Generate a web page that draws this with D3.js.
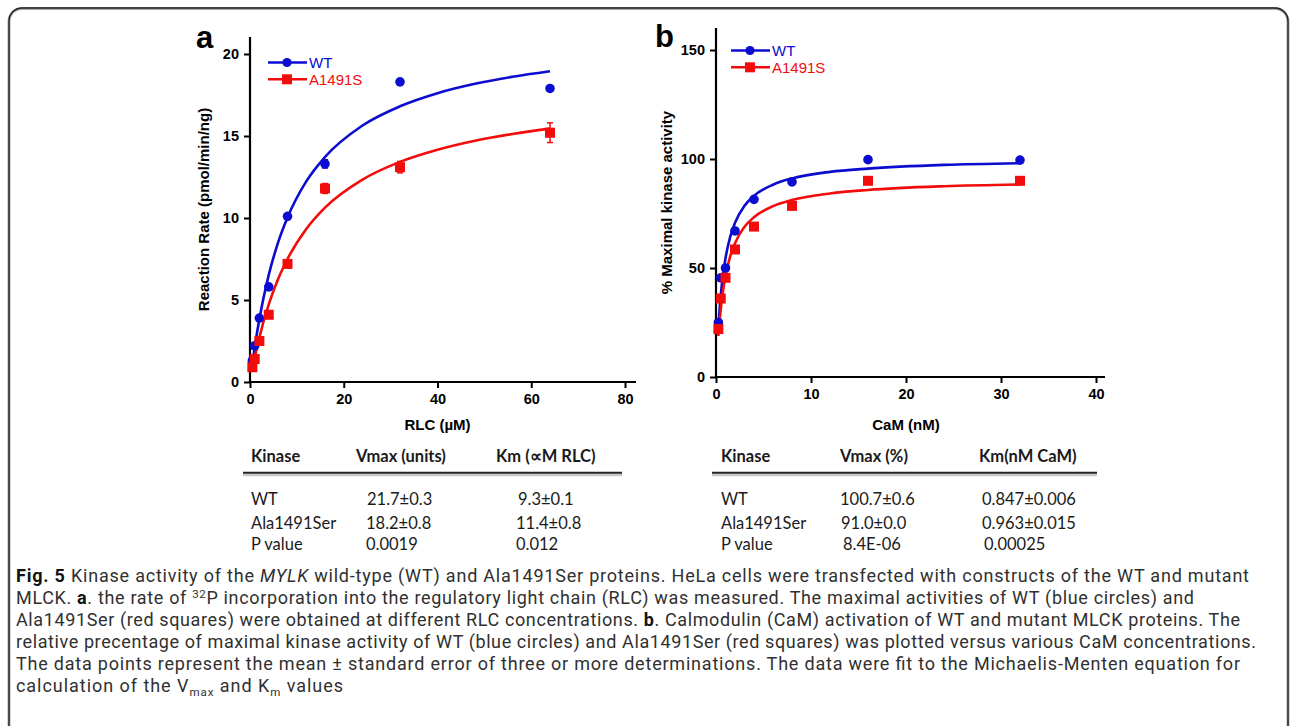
<!DOCTYPE html>
<html>
<head>
<meta charset="utf-8">
<script src="https://cdn.jsdelivr.net/npm/d3@7"></script>
<style>
  body { margin: 0; background: #fff; }
  svg { display: block; }
  .tick text { font-family: "Liberation Sans", Arial, sans-serif; font-weight: bold; font-size: 14.5px; fill: #000; }
</style>
</head>
<body>
<svg id="fig" width="1290" height="726"></svg>
<script>
// ---- panel a : RLC titration ----
var rlcConc   = [0.5, 1, 2, 4, 8, 16, 32, 64];
var rlcWT     = [1.3, 2.2, 3.9, 5.8, 10.1, 13.3, 18.3, 17.9];
var rlcWTErr  = [0, 0, 0, 0, 0, 0.25, 0, 0];
var rlcMut    = [0.9, 1.4, 2.5, 4.1, 7.2, 11.8, 13.1, 15.2];
var rlcMutErr = [0, 0, 0, 0, 0, 0.3, 0.35, 0.6];
// fitted curves
var rlcFitX   = [0.5, 1, 2, 4, 6, 8, 12, 16, 24, 32, 40, 48, 56, 64];
var rlcFitWT  = [1.1, 2.1, 3.84, 6.53, 8.51, 10.03, 12.23, 13.72, 15.64, 16.81, 17.61, 18.18, 18.61, 18.95];
var rlcFitMut = [0.77, 1.47, 2.72, 4.73, 6.28, 7.5, 9.33, 10.63, 12.34, 13.42, 14.16, 14.71, 15.12, 15.45];
var rlcXTicks = [0, 20, 40, 60, 80];
var rlcYTicks = [0, 5, 10, 15, 20];

// ---- panel b : CaM titration ----
var camConc   = [0.25, 0.5, 1, 2, 4, 8, 16, 32];
var camWT     = [25, 45.5, 50, 67, 81.5, 89.5, 99.7, 99.5];
var camMut    = [22, 36, 45.5, 58.5, 69, 78.5, 90, 90];
var camFitX   = [0.25, 0.5, 0.75, 1, 1.5, 2, 3, 4, 6, 8, 12, 16, 24, 32];
var camFitWT  = [22.9, 37.4, 47.3, 54.5, 64.4, 70.7, 78.5, 83.1, 88.2, 91.1, 94.1, 95.6, 97.3, 98.1];
var camFitMut = [18.8, 31.1, 39.8, 46.4, 55.4, 61.4, 68.9, 73.3, 78.4, 81.2, 84.2, 85.8, 87.5, 88.3];
var camXTicks = [0, 10, 20, 30, 40];
var camYTicks = [0, 50, 100, 150];

var seriesNames = ["WT", "A1491S"];

// ---- tables ----
var tableRows   = ["WT", "Ala1491Ser", "P value"];
var tableAHead  = ["Kinase", "Vmax (units)", "Km (\u221DM RLC)"];
var tableAVmax  = ["21.7\u00B10.3", "18.2\u00B10.8", "0.0019"];
var tableAKm    = ["9.3\u00B10.1", "11.4\u00B10.8", "0.012"];
var tableBHead  = ["Kinase", "Vmax (%)", "Km(nM CaM)"];
var tableBVmax  = ["100.7\u00B10.6", "91.0\u00B10.0", "8.4E-06"];
var tableBKm    = ["0.847\u00B10.006", "0.963\u00B10.015", "0.00025"];

var BLUE = "#0c0cd0", RED = "#f20c0c";
var svg = d3.select("#fig");

// figure frame
svg.append("rect")
  .attr("x", 9).attr("y", 8.5).attr("width", 1279).attr("height", 740)
  .attr("rx", 13).attr("fill", "none").attr("stroke", "#aaa").attr("stroke-width", 3);
svg.append("rect")
  .attr("x", 9).attr("y", 8).attr("width", 1279).attr("height", 740)
  .attr("rx", 13).attr("fill", "none").attr("stroke", "#222").attr("stroke-width", 1.4);

function drawPanel(p) {
  var g = svg.append("g");
  var x = d3.scaleLinear().domain(p.xDomain).range([p.left, p.right]);
  var y = d3.scaleLinear().domain(p.yDomain).range([p.bottom, p.top]);

  // axes
  var xAxis = g.append("g").attr("transform", "translate(0," + p.bottom + ")")
    .call(d3.axisBottom(x).tickValues(p.xTicks).tickSize(6).tickPadding(6).tickSizeOuter(0));
  var yAxis = g.append("g").attr("transform", "translate(" + p.left + ",0)")
    .call(d3.axisLeft(y).tickValues(p.yTicks).tickSize(6).tickPadding(5).tickSizeOuter(0));
  [xAxis, yAxis].forEach(function (a) {
    a.select(".domain").remove();
    a.selectAll(".tick line").attr("stroke", "#000").attr("stroke-width", 2);
  });
  // spines run a bit past the last tick
  g.append("line").attr("x1", p.left).attr("x2", p.left).attr("y1", p.bottom + 1).attr("y2", p.spineTop)
    .attr("stroke", "#000").attr("stroke-width", 2.2);
  g.append("line").attr("x1", p.left - 1).attr("x2", p.spineRight).attr("y1", p.bottom).attr("y2", p.bottom)
    .attr("stroke", "#000").attr("stroke-width", 2.2);

  // axis titles
  g.append("text").attr("x", (p.left + p.right) / 2).attr("y", 430)
    .attr("text-anchor", "middle")
    .style("font", "bold 15px 'Liberation Sans', Arial, sans-serif")
    .text(p.xLabel);
  g.append("text")
    .attr("transform", "translate(" + p.yLabelX + "," + ((p.bottom + p.spineTop) / 2) + ") rotate(-90)")
    .attr("text-anchor", "middle")
    .style("font", "bold 15px 'Liberation Sans', Arial, sans-serif")
    .text(p.yLabel);

  // panel letter
  g.append("text").attr("x", p.letterX).attr("y", p.letterY)
    .style("font", "bold 31px 'Liberation Sans', Arial, sans-serif")
    .text(p.letter);

  var line = d3.line().x(function (d) { return x(d[0]); }).y(function (d) { return y(d[1]); })
    .curve(d3.curveMonotoneX);

  var series = [
    { fitY: p.fitWT, pts: p.wt, err: p.wtErr, color: BLUE, shape: "circle" },
    { fitY: p.fitMut, pts: p.mut, err: p.mutErr, color: RED, shape: "square" }
  ];

  series.forEach(function (s) {
    g.append("path")
      .datum(p.fitX.map(function (v, i) { return [v, s.fitY[i]]; }))
      .attr("d", line).attr("fill", "none")
      .attr("stroke", s.color).attr("stroke-width", 2.6);
  });

  series.forEach(function (s) {
    var pts = p.conc.map(function (c, i) { return { x: c, y: s.pts[i], e: s.err ? s.err[i] : 0 }; });
    // error bars
    var eb = g.selectAll(null).data(pts.filter(function (d) { return d.e > 0; })).enter().append("g")
      .attr("stroke", s.color).attr("stroke-width", 1.5);
    eb.append("line").attr("x1", function (d) { return x(d.x); }).attr("x2", function (d) { return x(d.x); })
      .attr("y1", function (d) { return y(d.y - d.e); }).attr("y2", function (d) { return y(d.y + d.e); });
    eb.append("line").attr("x1", function (d) { return x(d.x) - 3; }).attr("x2", function (d) { return x(d.x) + 3; })
      .attr("y1", function (d) { return y(d.y + d.e); }).attr("y2", function (d) { return y(d.y + d.e); });
    eb.append("line").attr("x1", function (d) { return x(d.x) - 3; }).attr("x2", function (d) { return x(d.x) + 3; })
      .attr("y1", function (d) { return y(d.y - d.e); }).attr("y2", function (d) { return y(d.y - d.e); });

    if (s.shape === "circle") {
      g.selectAll(null).data(pts).enter().append("circle")
        .attr("cx", function (d) { return x(d.x); }).attr("cy", function (d) { return y(d.y); })
        .attr("r", 4.8).attr("fill", s.color);
    } else {
      g.selectAll(null).data(pts).enter().append("rect")
        .attr("x", function (d) { return x(d.x) - 5; }).attr("y", function (d) { return y(d.y) - 5; })
        .attr("width", 10).attr("height", 10).attr("fill", s.color);
    }
  });

  // legend
  var lg = g.append("g").attr("transform", "translate(" + p.legendX + "," + p.legendY + ")");
  seriesNames.forEach(function (name, i) {
    var c = i === 0 ? BLUE : RED;
    var row = lg.append("g").attr("transform", "translate(0," + (i * 16.8) + ")");
    row.append("line").attr("x1", 0).attr("x2", 39).attr("stroke", c).attr("stroke-width", 2.6);
    if (i === 0) row.append("circle").attr("cx", 19).attr("r", 4.6).attr("fill", c);
    else row.append("rect").attr("x", 14).attr("y", -5).attr("width", 10).attr("height", 10).attr("fill", c);
    row.append("text").attr("x", 41).attr("y", 5.5).attr("fill", c)
      .style("font", "15px 'Liberation Sans', Arial, sans-serif").text(name);
  });
}

drawPanel({
  letter: "a", letterX: 196, letterY: 48,
  xDomain: [0, 80], yDomain: [0, 20], left: 250, right: 625, bottom: 382, top: 54,
  spineTop: 37, spineRight: 636,
  xTicks: rlcXTicks, yTicks: rlcYTicks,
  xLabel: "RLC (\u00B5M)", yLabel: "Reaction Rate (pmol/min/ng)", yLabelX: 209,
  conc: rlcConc, wt: rlcWT, wtErr: rlcWTErr, mut: rlcMut, mutErr: rlcMutErr,
  fitX: rlcFitX, fitWT: rlcFitWT, fitMut: rlcFitMut,
  legendX: 268, legendY: 62.5
});

drawPanel({
  letter: "b", letterX: 655, letterY: 47,
  xDomain: [0, 40], yDomain: [0, 150], left: 716, right: 1096, bottom: 377, top: 50,
  spineTop: 28, spineRight: 1105,
  xTicks: camXTicks, yTicks: camYTicks,
  xLabel: "CaM (nM)", yLabel: "% Maximal kinase activity", yLabelX: 672,
  conc: camConc, wt: camWT, wtErr: null, mut: camMut, mutErr: null,
  fitX: camFitX, fitWT: camFitWT, fitMut: camFitMut,
  legendX: 731, legendY: 50.5
});

// ---- kinetics tables ----
function drawTable(t) {
  var g = svg.append("g").style("font-family", "Lato, 'Open Sans', sans-serif").style("font-size", "16.5px").attr("fill", "#1a1a1a");
  t.head.forEach(function (h, i) {
    g.append("text").attr("x", t.cols[i]).attr("y", 462).style("font-weight", "bold").text(h);
  });
  g.append("line").attr("x1", t.x1).attr("x2", t.x2).attr("y1", 475).attr("y2", 475)
    .attr("stroke", "#c8c8c8").attr("stroke-width", 2.5);
  g.append("line").attr("x1", t.x1).attr("x2", t.x2).attr("y1", 472.7).attr("y2", 472.7)
    .attr("stroke", "#222").attr("stroke-width", 2);
  var rowY = [504.5, 528.5, 549.5];
  tableRows.forEach(function (r, i) {
    g.append("text").attr("x", t.cols[0]).attr("y", rowY[i]).text(r);
    g.append("text").attr("x", t.valCols[0][i]).attr("y", rowY[i]).text(t.vmax[i]);
    g.append("text").attr("x", t.valCols[1][i]).attr("y", rowY[i]).text(t.km[i]);
  });
}

drawTable({
  head: tableAHead, vmax: tableAVmax, km: tableAKm,
  cols: [251, 356, 496], x1: 243, x2: 622,
  valCols: [[367, 366, 366], [518, 516, 516]]
});
drawTable({
  head: tableBHead, vmax: tableBVmax, km: tableBKm,
  cols: [721, 840, 979], x1: 712, x2: 1097,
  valCols: [[840, 841, 843], [982, 982, 984]]
});

// ---- caption ----
var captionLines = [
  [["b", "Fig. 5"], ["", " Kinase activity of the "], ["i", "MYLK"], ["", " wild-type (WT) and Ala1491Ser proteins. HeLa cells were transfected with constructs of the WT and mutant"]],
  [["", "MLCK. "], ["b", "a"], ["", ". the rate of "], ["sup", "32"], ["", "P incorporation into the regulatory light chain (RLC) was measured. The maximal activities of WT (blue circles) and"]],
  [["", "Ala1491Ser (red squares) were obtained at different RLC concentrations. "], ["b", "b"], ["", ". Calmodulin (CaM) activation of WT and mutant MLCK proteins. The"]],
  [["", "relative precentage of maximal kinase activity of WT (blue circles) and Ala1491Ser (red squares) was plotted versus various CaM concentrations."]],
  [["", "The data points represent the mean \u00B1 standard error of three or more determinations. The data were fit to the Michaelis-Menten equation for"]],
  [["", "calculation of the V"], ["sub", "max"], ["", " and K"], ["sub", "m"], ["", " values"]]
];
// how far each caption line runs in the reference
var captionWidths = [1233, 1178, 1224, 1240, 1224, 327];

var cap = svg.append("g")
  .style("font-family", "Roboto, sans-serif").style("font-size", "18px").attr("fill", "#303030");
captionLines.forEach(function (parts, li) {
  var t = cap.append("text").attr("x", 16).attr("y", 582 + li * 22)
    .attr("textLength", captionWidths[li]).attr("lengthAdjust", "spacing");
  var shift = 0;
  parts.forEach(function (pt) {
    var s = t.append("tspan").text(pt[1]);
    if (pt[0] === "b") s.style("font-weight", "bold").attr("fill", "#111");
    if (pt[0] === "i") s.style("font-style", "italic");
    if (pt[0] === "sup") { s.style("font-size", "11.5px").attr("dy", -6); shift = 6; return; }
    if (pt[0] === "sub") { s.style("font-size", "11.5px").attr("dy", 4); shift = -4; return; }
    if (shift) { s.attr("dy", shift); shift = 0; }
  });
});
</script>
</body>
</html>
